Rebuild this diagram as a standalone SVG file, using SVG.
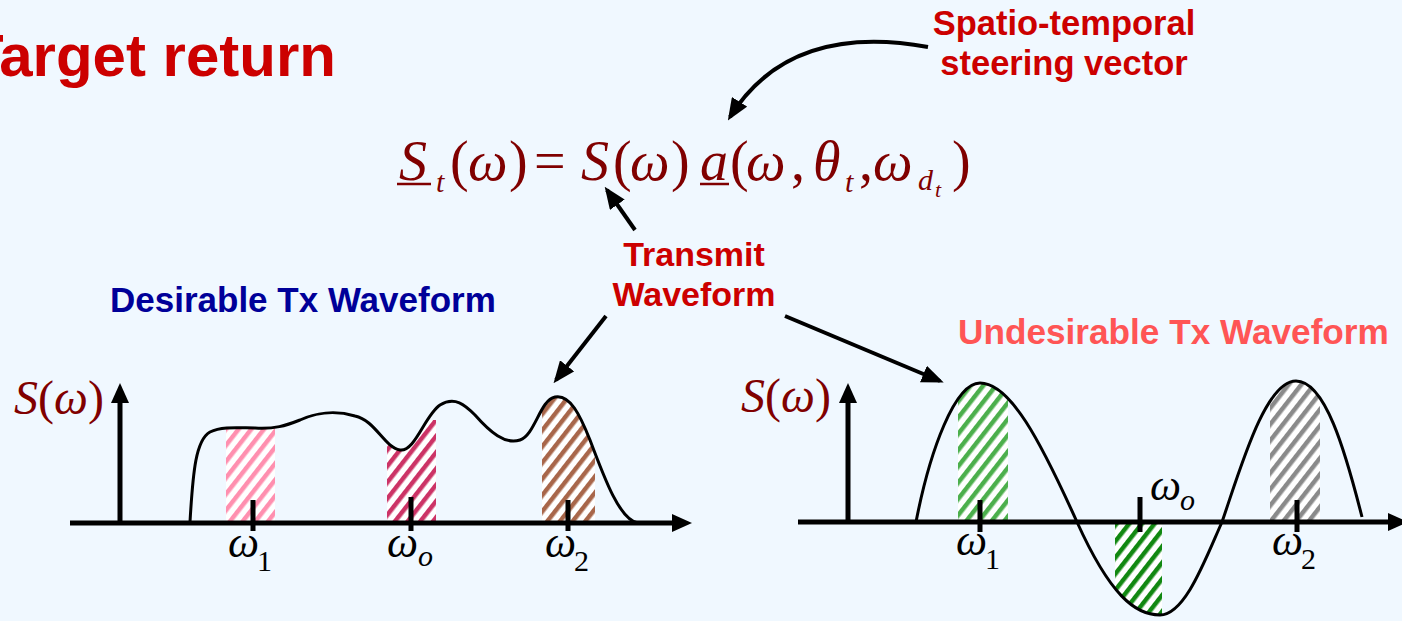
<svg xmlns="http://www.w3.org/2000/svg" width="1402" height="621" viewBox="0 0 1402 621">
<style>
.lbl{font-family:"Liberation Sans",Arial,sans-serif;font-weight:bold}
.red{fill:#CC0000}
.math{font-family:"Liberation Serif","Times New Roman",serif;fill:#800000}
.it{font-style:italic}
.tick{font-family:"Liberation Serif","Times New Roman",serif;fill:#000}
.ax{stroke:#000;stroke-width:5;fill:none}
.curve{stroke:#000;stroke-width:3;fill:none}
.conn{stroke:#000;stroke-width:4;fill:none;marker-end:url(#ah)}
</style>
<defs>
<marker id="ah" markerUnits="userSpaceOnUse" markerWidth="22" markerHeight="18" refX="18" refY="9" orient="auto">
<path d="M0,0 L22,9 L0,18 z" fill="#000"/>
</marker>
<pattern id="hPink" width="10" height="10" patternUnits="userSpaceOnUse" patternTransform="rotate(38)"><rect width="10" height="10" fill="#fff"/><rect width="4.5" height="10" fill="#FF8FAF"/></pattern>
<pattern id="hMag" width="10" height="10" patternUnits="userSpaceOnUse" patternTransform="rotate(38)"><rect width="10" height="10" fill="#fff"/><rect width="4.5" height="10" fill="#CC3366"/></pattern>
<pattern id="hBrown" width="10" height="10" patternUnits="userSpaceOnUse" patternTransform="rotate(38)"><rect width="10" height="10" fill="#fff"/><rect width="4.5" height="10" fill="#A8664A"/></pattern>
<pattern id="hGreen" width="10" height="10" patternUnits="userSpaceOnUse" patternTransform="rotate(38)"><rect width="10" height="10" fill="#fff"/><rect width="4.5" height="10" fill="#4CAF4C"/></pattern>
<pattern id="hDGreen" width="10" height="10" patternUnits="userSpaceOnUse" patternTransform="rotate(38)"><rect width="10" height="10" fill="#fff"/><rect width="4.5" height="10" fill="#118811"/></pattern>
<pattern id="hGray" width="10" height="10" patternUnits="userSpaceOnUse" patternTransform="rotate(38)"><rect width="10" height="10" fill="#fff"/><rect width="4.5" height="10" fill="#8A8A8A"/></pattern>
<clipPath id="clipL"><path d="M190,522 C193,470 196,440 210,432 C222,426 240,428 255,428 C275,429 285,426 300,420 C315,413 335,410 355,416 C375,420 385,448 400,450 C415,452 425,415 440,405 C455,396 465,405 475,415 C490,432 505,445 520,440 C535,435 540,400 555,397 C570,394 580,415 590,440 C605,480 620,520 638,523 Z"/></clipPath>
<clipPath id="clipR"><path d="M916,522 C930,450 955,383 980,383 C1010,383 1040,440 1077,522 C1110,595 1135,615 1160,615 C1185,615 1205,560 1222,522 C1240,470 1265,381 1296,381 C1325,381 1345,450 1362,517 L1362,522 Z"/></clipPath>
</defs>
<rect width="1402" height="621" fill="#F0F8FF"/>

<g id="title"><text class="lbl red" x="-33" y="76" font-size="60">Target return</text></g>

<g id="label-steering"><text class="lbl red" font-size="34.5" text-anchor="middle"><tspan x="1064" y="35">Spatio-temporal</tspan><tspan x="1064" y="75">steering vector</tspan></text></g>

<g id="equation">
<text class="math" font-size="56">
<tspan class="it" x="399" y="180">S</tspan>
<tspan class="it" x="436" y="192" font-size="30">t</tspan>
<tspan x="450" y="180">(</tspan>
<tspan class="it" x="468" y="180">ω</tspan>
<tspan x="509" y="180">)</tspan>
<tspan x="534" y="180">=</tspan>
<tspan class="it" x="581" y="180">S</tspan>
<tspan x="613" y="180">(</tspan>
<tspan class="it" x="630" y="180">ω</tspan>
<tspan x="671" y="180">)</tspan>
<tspan class="it" x="700" y="180">a</tspan>
<tspan x="730" y="180">(</tspan>
<tspan class="it" x="746" y="180">ω</tspan>
<tspan x="791" y="180">,</tspan>
<tspan class="it" x="813" y="180">θ</tspan>
<tspan class="it" x="845" y="192" font-size="30">t</tspan>
<tspan x="859" y="180">,</tspan>
<tspan class="it" x="873" y="180">ω</tspan>
<tspan class="it" x="918" y="190" font-size="30">d</tspan>
<tspan class="it" x="935" y="197" font-size="22">t</tspan>
<tspan x="952" y="180">)</tspan>
</text>
<line x1="397" y1="184" x2="431" y2="184" stroke="#800000" stroke-width="2.5"/>
<line x1="700" y1="184" x2="729" y2="184" stroke="#800000" stroke-width="2.5"/>
</g>

<g id="label-transmit"><text class="lbl red" font-size="34" text-anchor="middle"><tspan x="694" y="266">Transmit</tspan><tspan x="694" y="306">Waveform</tspan></text></g>

<g id="label-desirable"><text class="lbl" x="110" y="312" font-size="35" fill="#000099">Desirable Tx Waveform</text></g>
<g id="label-undesirable"><text class="lbl" x="958" y="344" font-size="35.2" fill="#FF5555">Undesirable Tx Waveform</text></g>

<g id="chart-left">
<text class="math" font-size="48" x="14" y="414"><tspan class="it">S</tspan>(<tspan class="it">ω</tspan>)</text>
<g clip-path="url(#clipL)">
<rect x="226" y="426" width="49" height="97" fill="url(#hPink)"/>
<rect x="387" y="420" width="49" height="103" fill="url(#hMag)"/>
<rect x="542" y="380" width="53" height="143" fill="url(#hBrown)"/>
</g>
<path class="curve" d="M190,522 C193,470 196,440 210,432 C222,426 240,428 255,428 C275,429 285,426 300,420 C315,413 335,410 355,416 C375,420 385,448 400,450 C415,452 425,415 440,405 C455,396 465,405 475,415 C490,432 505,445 520,440 C535,435 540,400 555,397 C570,394 580,415 590,440 C605,480 620,520 638,523"/>
<line class="ax" x1="120" y1="523" x2="120" y2="400"/>
<polygon points="120,383 111,403 129,403" fill="#000"/>
<line class="ax" x1="70" y1="523" x2="675" y2="523"/>
<polygon points="692,523 672,514 672,532" fill="#000"/>
<line class="ax" x1="253" y1="500" x2="253" y2="531"/>
<line class="ax" x1="411" y1="497" x2="411" y2="531"/>
<line class="ax" x1="568" y1="500" x2="568" y2="531"/>
<text class="tick" font-size="44"><tspan class="it" x="228" y="557">ω</tspan><tspan x="257" y="571" font-size="30">1</tspan></text>
<text class="tick" font-size="44"><tspan class="it" x="387" y="557">ω</tspan><tspan class="it" x="418" y="566" font-size="30">o</tspan></text>
<text class="tick" font-size="44"><tspan class="it" x="545" y="557">ω</tspan><tspan x="574" y="571" font-size="30">2</tspan></text>
</g>

<g id="chart-right">
<text class="math" font-size="48" x="741" y="412"><tspan class="it">S</tspan>(<tspan class="it">ω</tspan>)</text>
<g clip-path="url(#clipR)">
<rect x="958" y="380" width="50" height="143" fill="url(#hGreen)"/>
<rect x="1115" y="522" width="47" height="100" fill="url(#hDGreen)"/>
<rect x="1270" y="378" width="50" height="145" fill="url(#hGray)"/>
</g>
<path class="curve" d="M916,522 C930,450 955,383 980,383 C1010,383 1040,440 1077,522 C1110,595 1135,615 1160,615 C1185,615 1205,560 1222,522 C1240,470 1265,381 1296,381 C1325,381 1345,450 1362,517"/>
<line class="ax" x1="848" y1="522" x2="848" y2="400"/>
<polygon points="848,383 839,403 857,403" fill="#000"/>
<line class="ax" x1="798" y1="522" x2="1392" y2="522"/>
<polygon points="1408,522 1388,513 1388,531" fill="#000"/>
<line class="ax" x1="980" y1="500" x2="980" y2="532"/>
<line class="ax" x1="1140" y1="497" x2="1140" y2="532"/>
<line class="ax" x1="1297" y1="500" x2="1297" y2="532"/>
<text class="tick" font-size="44"><tspan class="it" x="956" y="555">ω</tspan><tspan x="985" y="569" font-size="30">1</tspan></text>
<text class="tick" font-size="44"><tspan class="it" x="1150" y="500">ω</tspan><tspan class="it" x="1180" y="510" font-size="30">o</tspan></text>
<text class="tick" font-size="44"><tspan class="it" x="1272" y="555">ω</tspan><tspan x="1301" y="569" font-size="30">2</tspan></text>
</g>

<g id="connectors">
<path class="conn" d="M928,47 C850,33 775,45 730,117"/>
<path class="conn" d="M635,230 L607,190"/>
<path class="conn" d="M606,316 L556,380"/>
<path class="conn" d="M785,316 L940,381"/>
</g>
</svg>
